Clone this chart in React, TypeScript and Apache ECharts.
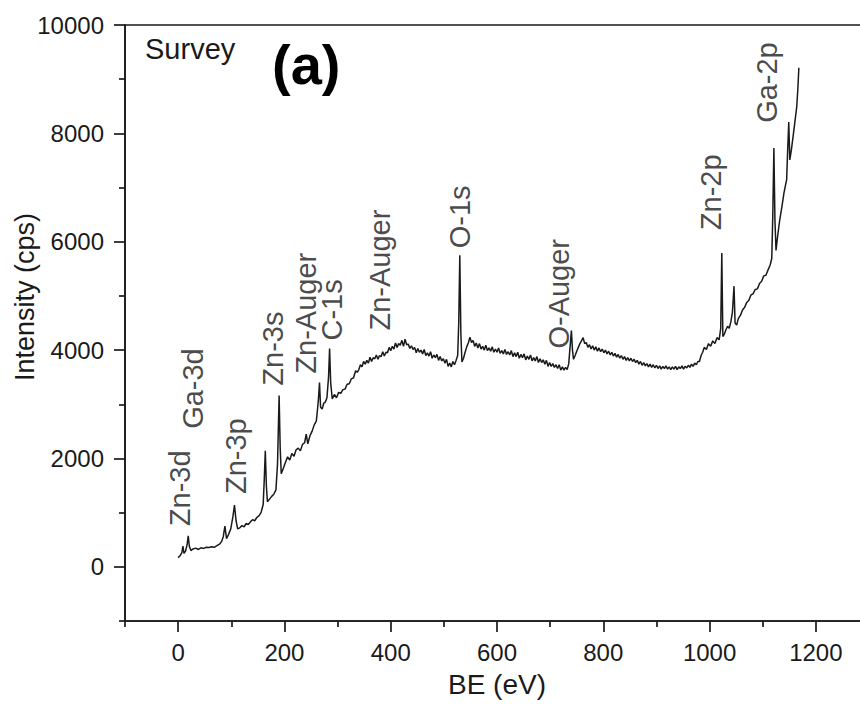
import React, { useEffect, useRef } from "react";
import * as echarts from "echarts";

// XPS survey spectrum: [binding energy (eV), intensity (cps)]
const spectrum: [number, number][] = [
  [0, 170], [4, 210], [7, 260], [9, 380], [11, 250], [14, 290], [17, 420], [19, 570], [21, 380], [24, 300],
  [28, 330], [33, 345], [38, 320], [43, 350], [48, 340], [53, 360], [58, 355], [63, 370], [68, 360], [73, 390],
  [78, 420], [82, 470], [85, 560], [88, 750], [91, 520], [95, 600], [99, 700], [103, 920], [106, 1140], [109, 850],
  [112, 700], [116, 720], [120, 760], [124, 740], [128, 800], [132, 780], [136, 830], [140, 870], [144, 850], [148, 910],
  [152, 940], [156, 1000], [160, 1150], [162, 1600], [164, 2140], [166, 1500], [168, 1200], [172, 1250], [176, 1300], [180, 1340],
  [184, 1420], [187, 1900], [190, 3160], [192, 2200], [194, 1720], [198, 1820], [202, 1930], [206, 2030], [210, 1970], [214, 2090],
  [218, 2040], [222, 2160], [226, 2190], [230, 2140], [234, 2260], [238, 2290], [241, 2450], [244, 2270], [248, 2420], [252, 2500],
  [256, 2620], [260, 2690], [262, 2880], [264, 3100], [266, 3400], [268, 2950], [271, 2910], [274, 3020], [277, 3040], [280, 3120],
  [283, 3500], [285, 4030], [287, 3400], [290, 3100], [294, 3180], [298, 3120], [302, 3220], [306, 3200], [310, 3270], [314, 3280],
  [318, 3370], [322, 3380], [326, 3470], [330, 3490], [334, 3620], [337, 3590],
  [340, 3640], [343, 3730], [346, 3690], [349, 3790], [352, 3740], [355, 3810], [358, 3760], [361, 3870], [364, 3790], [367, 3860],
  [370, 3840], [373, 3910], [376, 3830], [379, 3900], [382, 3880], [385, 3970], [388, 3890], [391, 3960], [394, 3950], [397, 4050],
  [400, 3990], [403, 4070], [406, 4020], [409, 4130], [412, 4050], [415, 4120], [418, 4090], [421, 4180], [424, 4070], [427, 4200],
  [430, 4100], [433, 4110], [436, 4030], [439, 4080], [442, 4010], [445, 4050], [448, 3950], [451, 4030], [454, 3960], [457, 4000],
  [460, 3930], [463, 4010], [466, 3900], [469, 3950], [472, 3890], [475, 3970], [478, 3850], [481, 3910], [484, 3860], [487, 3920],
  [490, 3810], [493, 3880], [496, 3800], [499, 3840], [502, 3760], [505, 3830], [508, 3700], [511, 3760], [514, 3690], [517, 3790],
  [520, 3730], [523, 3810], [526, 3900], [528, 4500], [530, 5750], [532, 4300], [534, 3780], [537, 3850], [540, 3960], [543, 4060],
  [546, 4130], [549, 4240], [552, 4140], [555, 4180], [558, 4070], [561, 4130], [564, 4040], [567, 4120], [570, 4020], [573, 4070],
  [576, 4000], [579, 4090], [582, 3990], [585, 4040], [588, 3980], [591, 4060], [594, 3960], [597, 4020], [600, 3960], [603, 4040],
  [606, 3940], [609, 3990], [612, 3930], [615, 4010], [618, 3920], [621, 3970], [624, 3910], [627, 3990], [630, 3880], [633, 3950],
  [636, 3880], [639, 3960], [642, 3850], [645, 3920], [648, 3860], [651, 3930], [654, 3820], [657, 3890], [660, 3830], [663, 3910],
  [666, 3800], [669, 3860], [672, 3800], [675, 3880], [678, 3770], [681, 3840], [684, 3770], [687, 3820], [690, 3740], [693, 3810],
  [696, 3700], [699, 3770], [702, 3700], [705, 3750], [708, 3680], [711, 3730], [714, 3660], [717, 3730], [720, 3630], [723, 3690],
  [726, 3630], [729, 3680], [732, 3640], [735, 3750], [737, 4000], [740, 4360], [742, 4000], [744, 3830], [747, 3900], [750, 3980],
  [753, 4050], [756, 4120], [759, 4170], [762, 4230], [765, 4120], [768, 4140], [771, 4050], [774, 4100], [777, 4020], [780, 4080],
  [783, 4000], [786, 4060], [789, 3980], [792, 4040], [795, 3970], [798, 4020], [801, 3950], [804, 4000], [807, 3930], [810, 3980],
  [813, 3910], [816, 3960], [819, 3890], [822, 3940], [825, 3870], [828, 3920], [831, 3850], [834, 3900], [837, 3830], [840, 3880],
  [843, 3810], [846, 3860], [849, 3800], [852, 3850], [855, 3790], [858, 3830], [861, 3770], [864, 3810], [867, 3740], [870, 3790],
  [873, 3720], [876, 3770], [879, 3710], [882, 3750], [885, 3690], [888, 3740], [891, 3680], [894, 3730], [897, 3670], [900, 3720],
  [903, 3660], [906, 3710], [909, 3650], [912, 3700], [915, 3660], [918, 3710], [921, 3650], [924, 3690], [927, 3640], [930, 3690],
  [933, 3650], [936, 3700], [939, 3640], [942, 3690], [945, 3660], [948, 3710], [951, 3650], [954, 3700], [957, 3670], [960, 3720],
  [963, 3680], [966, 3740], [969, 3700], [972, 3760], [975, 3730], [978, 3790], [981, 3790], [984, 3900], [987, 3960], [990, 4050],
  [994, 4010], [998, 4120], [1002, 4070], [1006, 4170], [1010, 4120], [1014, 4230], [1018, 4190], [1021, 4400], [1023, 5790], [1025, 4250],
  [1028, 4300], [1031, 4380], [1034, 4440], [1037, 4400], [1040, 4520], [1043, 4700], [1046, 5180], [1048, 4500], [1051, 4460], [1054, 4580],
  [1058, 4640], [1062, 4740], [1066, 4790], [1070, 4880], [1074, 4920], [1078, 5020], [1082, 5040], [1086, 5120], [1090, 5130], [1094, 5230],
  [1098, 5270], [1102, 5370], [1106, 5380], [1110, 5480], [1114, 5570], [1117, 5690], [1119, 6500], [1121, 7730], [1123, 6400], [1125, 5840],
  [1128, 6100], [1132, 6400], [1136, 6640], [1140, 6900], [1143, 7050], [1145, 7140], [1147, 7700], [1149, 8210], [1151, 7510], [1154, 7700],
  [1158, 8010], [1161, 8250], [1164, 8490], [1166, 8800], [1168, 9210],
];

// Peak annotations: label text and the data point where each rotated label starts
const peakNames = ["Zn-3d", "Ga-3d", "Zn-3p", "Zn-3s", "Zn-Auger", "C-1s", "Zn-Auger", "O-1s", "O-Auger", "Zn-2p", "Ga-2p"];
const peakBE = [4, 28, 109, 179, 241, 289, 379, 530, 717, 1002, 1109];
const peakLabelI = [750, 2546, 1343, 3343, 3565, 4176, 4361, 5880, 4028, 6213, 8194];

const xMajorTicks = [0, 200, 400, 600, 800, 1000, 1200];
const xMinorTicks = [-100, 100, 300, 500, 700, 900, 1100, 1300];
const yMajorTicks = [0, 2000, 4000, 6000, 8000, 10000];
const yMinorTicks = [-1000, 1000, 3000, 5000, 7000, 9000];

const X_MIN = -100;
const X_MAX = 1300;
const Y_MIN = -1000;
const Y_MAX = 10000;

const FONT = "'Liberation Sans', Arial, Helvetica, sans-serif";
const INK = "#1a1a1a";

export default function App() {
  const ref = useRef<HTMLDivElement>(null);

  useEffect(() => {
    document.body.style.margin = "0";
    if (!ref.current) return;
    const chart = echarts.init(ref.current, undefined, { renderer: "svg" });

    const tickAxisX = (values: number[], len: number) => ({
      type: "value",
      min: X_MIN,
      max: X_MAX,
      position: "bottom",
      axisLine: { show: false, onZero: false },
      axisTick: { show: true, length: len, customValues: values, lineStyle: { color: INK, width: 1.7 } },
      axisLabel: { show: false },
      splitLine: { show: false },
    });
    const tickAxisY = (values: number[], len: number) => ({
      type: "value",
      min: Y_MIN,
      max: Y_MAX,
      position: "left",
      axisLine: { show: false, onZero: false },
      axisTick: { show: true, length: len, customValues: values, lineStyle: { color: INK, width: 1.7 } },
      axisLabel: { show: false },
      splitLine: { show: false },
    });

    chart.setOption({
      animation: false,
      textStyle: { fontFamily: FONT },
      grid: {
        left: 125,
        top: 25,
        right: -9,
        bottom: 85,
        show: true,
        borderColor: INK,
        borderWidth: 1.6,
        backgroundColor: "transparent",
        outerBoundsMode: "none",
      },
      xAxis: [
        {
          type: "value",
          min: X_MIN,
          max: X_MAX,
          position: "bottom",
          axisLine: { show: true, onZero: false, lineStyle: { color: INK, width: 1.6 } },
          axisTick: { show: false },
          axisLabel: {
            customValues: xMajorTicks,
            formatter: (v: number) => String(v),
            fontSize: 24,
            color: INK,
            margin: 19,
            fontFamily: FONT,
          },
          splitLine: { show: false },
          name: "BE (eV)",
          nameLocation: "middle",
          nameGap: 49,
          nameMoveOverlap: false,
          nameTextStyle: { fontSize: 28, color: INK, fontFamily: FONT },
        },
        tickAxisX(xMajorTicks, 11),
        tickAxisX(xMinorTicks, 6),
      ],
      yAxis: [
        {
          type: "value",
          min: Y_MIN,
          max: Y_MAX,
          position: "left",
          axisLine: { show: true, onZero: false, lineStyle: { color: INK, width: 1.6 } },
          axisTick: { show: false },
          axisLabel: {
            customValues: yMajorTicks,
            formatter: (v: number) => String(v),
            fontSize: 24,
            color: INK,
            margin: 21,
            fontFamily: FONT,
          },
          splitLine: { show: false },
        },
        tickAxisY(yMajorTicks, 11),
        tickAxisY(yMinorTicks, 6),
      ],
      series: [
        {
          type: "line",
          name: "Survey",
          xAxisIndex: 0,
          yAxisIndex: 0,
          data: spectrum,
          showSymbol: false,
          symbol: "none",
          lineStyle: { color: INK, width: 1.5 },
          silent: true,
        },
        {
          type: "scatter",
          name: "peaks",
          xAxisIndex: 0,
          yAxisIndex: 0,
          symbolSize: 0,
          silent: true,
          clip: false,
          data: peakNames.map((n, i) => ({ name: n, value: [peakBE[i], peakLabelI[i]] })),
          label: {
            show: true,
            position: "inside",
            formatter: (p: any) => p.name,
            rotate: 90,
            align: "left",
            verticalAlign: "middle",
            fontSize: 29,
            color: INK,
            fontFamily: FONT,
          },
        },
      ],
      graphic: [
        {
          type: "text",
          x: 25,
          y: 297,
          rotation: Math.PI / 2,
          style: {
            text: "Intensity (cps)",
            fontSize: 27,
            fill: INK,
            fontFamily: FONT,
            align: "center",
            verticalAlign: "middle",
          },
        },
        {
          type: "text",
          left: 145,
          top: 34,
          style: { text: "Survey", fontSize: 29, fill: INK, fontFamily: FONT },
        },
        {
          type: "text",
          left: 272,
          top: 36,
          style: { text: "(a)", fontSize: 56, fontWeight: "bold", fill: "#000", fontFamily: FONT },
        },
      ],
    });
    return () => chart.dispose();
  }, []);

  return <div ref={ref} style={{ width: 860, height: 706 }} />;
}
